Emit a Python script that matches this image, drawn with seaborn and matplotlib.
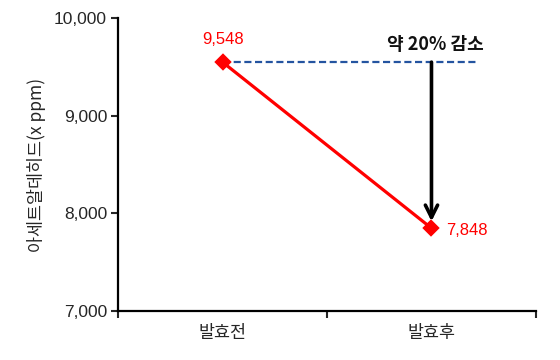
import matplotlib
matplotlib.use("Agg")
import matplotlib.pyplot as plt
import seaborn as sns
import numpy as np

categories = ["발효전", "발효후"]
values = [9548, 7848]
value_labels = ["9,548", "7,848"]
y_ticks = [7000, 8000, 9000, 10000]
y_tick_labels = ["7,000", "8,000", "9,000", "10,000"]
annotation_text = "약 20% 감소"
y_label = "아세트알데히드(x ppm)"

sns.set_theme(style="white")
plt.rcParams['font.family'] = ['Liberation Sans', 'Noto Sans CJK KR', 'DejaVu Sans']

fig = plt.figure(figsize=(5.6, 3.6), dpi=100)
ax = fig.add_axes([0.211, 0.136, 0.746, 0.814])

# dashed reference line from the first point
x_idx = np.arange(len(categories))
ax.plot([x_idx[0], x_idx[1] + 0.22], [values[0], values[0]],
        linestyle=(0, (3.2, 1.6)), color="#2454A0", lw=1.6, zorder=2)

sns.pointplot(x=categories, y=values, color="#FF0000", markers="D",
              markersize=7, linewidth=2.3, ax=ax, zorder=4)

# arrow showing decrease
ax.annotate("", xy=(x_idx[1], values[1] + 70), xytext=(x_idx[1], values[0]),
            arrowprops=dict(arrowstyle="->", color="black", lw=2.6,
                            mutation_scale=22, shrinkA=0, shrinkB=0),
            zorder=3)
ax.text(x_idx[1] + 0.02, values[0] + 185, annotation_text, ha="center", va="center",
        fontsize=13, fontweight="bold", color="#111111",
        family=['Noto Sans CJK KR', 'DejaVu Sans'])

# value labels
ax.text(x_idx[0], values[0] + 235, value_labels[0], ha="center", va="center",
        color="#FF0000", fontsize=12)
ax.text(x_idx[1] + 0.07, values[1] - 20, value_labels[1], ha="left", va="center",
        color="#FF0000", fontsize=12)

ax.set_xlim(-0.5, len(categories) - 0.5)
ax.set_ylim(y_ticks[0], y_ticks[-1])
ax.set_yticks(y_ticks)
ax.set_yticklabels(y_tick_labels, fontsize=12.5)

ax.set_xticks(np.arange(-0.5, len(categories), 1.0))
ax.set_xticklabels([])
ax.set_xticks(x_idx, minor=True)
ax.set_xticklabels(categories, minor=True, fontsize=12.5,
                   family=['Noto Sans CJK KR', 'DejaVu Sans'])
ax.tick_params(axis='x', which='major', length=5, width=1.5, direction='out', bottom=True)
ax.tick_params(axis='x', which='minor', length=0, pad=9)
ax.tick_params(axis='y', length=5, width=1.5, direction='out', left=True, pad=3)

ax.set_ylabel(y_label, fontsize=12.5, family=['Noto Sans CJK KR', 'DejaVu Sans'], labelpad=6)
ax.set_xlabel("")

for s in ["top", "right"]:
    ax.spines[s].set_visible(False)
for s in ["left", "bottom"]:
    ax.spines[s].set_color("black")
    ax.spines[s].set_linewidth(1.6)

fig.savefig("out.png", dpi=100)
